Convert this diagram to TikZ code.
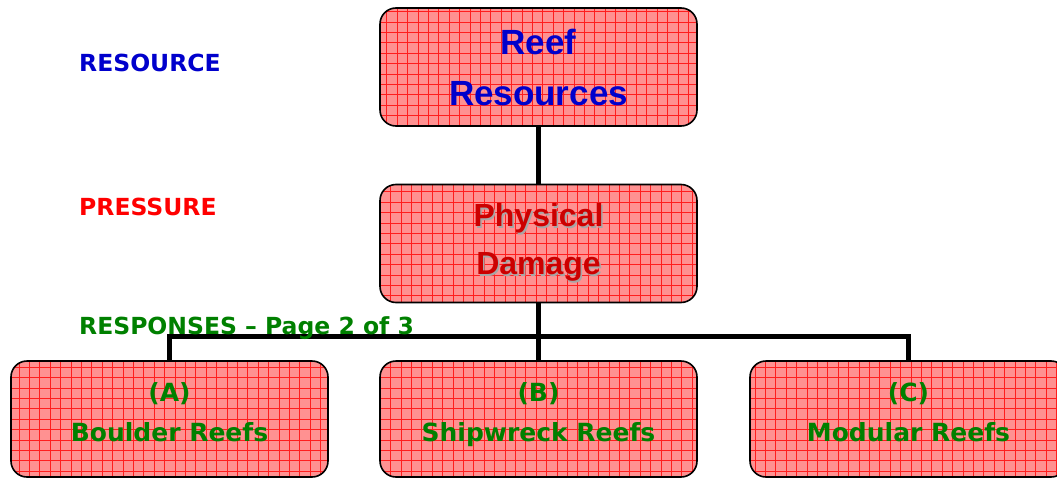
\documentclass[tikz,border=0pt]{standalone}
\usepackage{fontspec}
\setmainfont{Liberation Sans}
\newfontfamily\wideface{DejaVu Sans}
\definecolor{boxfill}{RGB}{255,145,145}
\definecolor{gridred}{RGB}{255,30,30}
\definecolor{reefblue}{RGB}{0,0,204}
\definecolor{dmgred}{RGB}{204,0,0}
\definecolor{presred}{RGB}{255,0,0}
\definecolor{respgreen}{RGB}{0,128,0}
\newcommand\shadowed[1]{\leavevmode\rlap{\hspace{1.6pt}\raisebox{-1.6pt}{\color{black!35}#1}}#1}
\newcommand\resptext[2]{\raisebox{-1pt}[0pt][0pt]{\begin{tabular}{@{}c@{}}#1\\#2\end{tabular}}}
\tikzset{
  reefbox/.style={draw=black, line width=1.6pt, rounded corners=16pt, fill=boxfill,
    minimum width=317pt, minimum height=118pt, inner sep=0pt, align=center,
    path picture={\draw[gridred, line width=0.5pt, step=10.4pt]
      (path picture bounding box.south west) grid (path picture bounding box.north east);}},
  topbox/.style={reefbox, text=reefblue, font=\bfseries\fontsize{35}{51}\selectfont},
  dmgbox/.style={reefbox, text=dmgred, font=\bfseries\fontsize{32}{48}\selectfont},
  respbox/.style={reefbox, minimum height=116pt, text=respgreen, font=\wideface\bfseries\fontsize{25}{40}\selectfont},
  conn/.style={line width=5pt, black},
  sidelabel/.style={anchor=base west, inner sep=0pt, font=\wideface\bfseries\fontsize{23.5}{28}\selectfont},
}
\begin{document}
\begin{tikzpicture}[x=1pt,y=1pt]
\useasboundingbox (0,0) rectangle (1057,-479);
\node[topbox] (reef) at (538.5,-67) {Reef\\Resources};
\node[dmgbox] (dmg) at (538.5,-243.5) {\shadowed{Physical}\\\shadowed{Damage}};
\node[respbox] (a) at (169.5,-419) {\resptext{(A)}{Boulder Reefs}};
\node[respbox] (b) at (538.5,-419) {\resptext{(B)}{Shipwreck Reefs}};
\node[respbox] (c) at (908.5,-419) {\resptext{(C)}{Modular Reefs}};
\draw[conn] (reef.south) -- (dmg.north);
\draw[conn] (dmg.south) -- (b.north);
\draw[conn] (a.north) -- ++(0,24) -| (c.north);
\node[sidelabel, text=reefblue] (lres) at (79,-71) {RESOURCE};
\node[sidelabel, text=presred] (lpres) at (79,-215) {PRESSURE};
\node[sidelabel, text=respgreen] (lresp) at (79,-334) {RESPONSES – Page 2 of 3};
\end{tikzpicture}
\end{document}
